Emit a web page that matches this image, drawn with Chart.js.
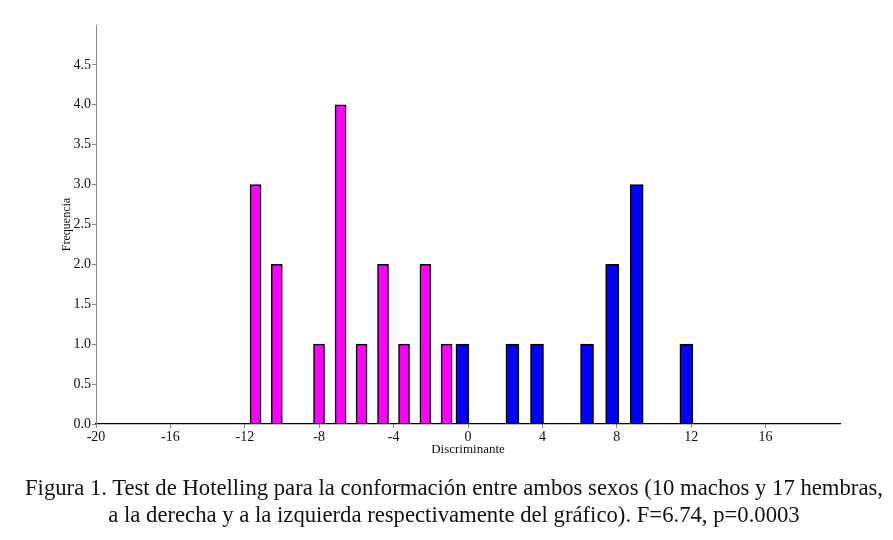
<!doctype html>
<html lang="es">
<head>
  <meta charset="utf-8">
  <title>Test de Hotelling</title>
  <script src="https://cdn.jsdelivr.net/npm/chart.js@4"></script>
  <style>
    body { margin: 0; background: #fff; }
    .wrap { position: relative; width: 893px; height: 540px; }
    #caption {
      position: absolute; left: 0; top: 474px; width: 908px;
      text-align: center;
      font-family: "Liberation Serif", "Times New Roman", serif;
      font-size: 22.7px; line-height: 27px; color: #111;
    }
  </style>
</head>
<body>
<div class="wrap">
  <canvas id="histChart" width="893" height="540"></canvas>
  <div id="caption">Figura 1. Test de Hotelling para la conformación entre ambos sexos (10 machos y 17 hembras,<br>a la derecha y a la izquierda respectivamente del gráfico). F=6.74, p=0.0003</div>
</div>

<script>
  // hembras (izquierda) y machos (derecha)
  const hembrasX = [-11.42, -10.28, -8.01, -6.85, -5.72, -4.57, -3.44, -2.29, -1.15];
  const hembrasFreq = [3, 2, 1, 4, 1, 2, 1, 2, 1];
  const machosX = [-0.30, 2.39, 3.71, 6.40, 7.75, 9.07, 11.74];
  const machosFreq = [1, 1, 1, 1, 2, 3, 1];

  const xMin = -20, xMax = 20, xStep = 4;
  const yMin = 0, yMax = 5, yStep = 0.5;

  const toPoints = (xs, ys) => xs.map((x, i) => ({ x: x, y: ys[i] }));
  const serif = 'Liberation Serif, Times New Roman, serif';

  const ctx = document.getElementById('histChart').getContext('2d');
  new Chart(ctx, {
    type: 'bar',
    data: {
      datasets: [{
        label: 'Hembras',
        data: toPoints(hembrasX, hembrasFreq),
        backgroundColor: '#ff00ff',
        borderColor: '#000',
        borderWidth: 1.5,
        barThickness: 11,
        grouped: false
      }, {
        label: 'Machos',
        data: toPoints(machosX, machosFreq),
        backgroundColor: '#0000ff',
        borderColor: '#000',
        borderWidth: 1.5,
        barThickness: 13,
        grouped: false
      }]
    },
    options: {
      responsive: false,
      animation: false,
      layout: { padding: { left: 0, right: 53, top: 25, bottom: 76 } },
      plugins: { legend: { display: false }, tooltip: { enabled: false } },
      scales: {
        x: {
          type: 'linear',
          offset: false,
          min: xMin, max: xMax,
          afterFit: s => { s.height = 40; },
          border: { color: '#000', width: 1.2 },
          grid: { offset: false, drawOnChartArea: false, drawTicks: true, tickLength: 4, color: '#888' },
          ticks: {
            stepSize: xStep, maxRotation: 0, padding: 1, color: '#111',
            font: { family: serif, size: 14 },
            callback: v => (v === xMax ? null : String(v))
          },
          title: {
            display: true, text: 'Discriminante', color: '#111',
            font: { family: serif, size: 13 }, padding: { top: 0, bottom: 7 }
          }
        },
        y: {
          min: yMin, max: yMax,
          afterFit: s => { s.width = 96; },
          border: { color: '#888', width: 1 },
          grid: { drawOnChartArea: false, drawTicks: true, tickLength: 4, color: '#888' },
          ticks: {
            stepSize: yStep, padding: 1, color: '#111',
            font: { family: serif, size: 14 },
            callback: v => (v === yMax ? null : v.toFixed(1))
          },
          title: {
            display: true, text: 'Frequencia', color: '#111',
            font: { family: serif, size: 12 }, padding: { top: 60, bottom: 0 }
          }
        }
      }
    }
  });
</script>
</body>
</html>
